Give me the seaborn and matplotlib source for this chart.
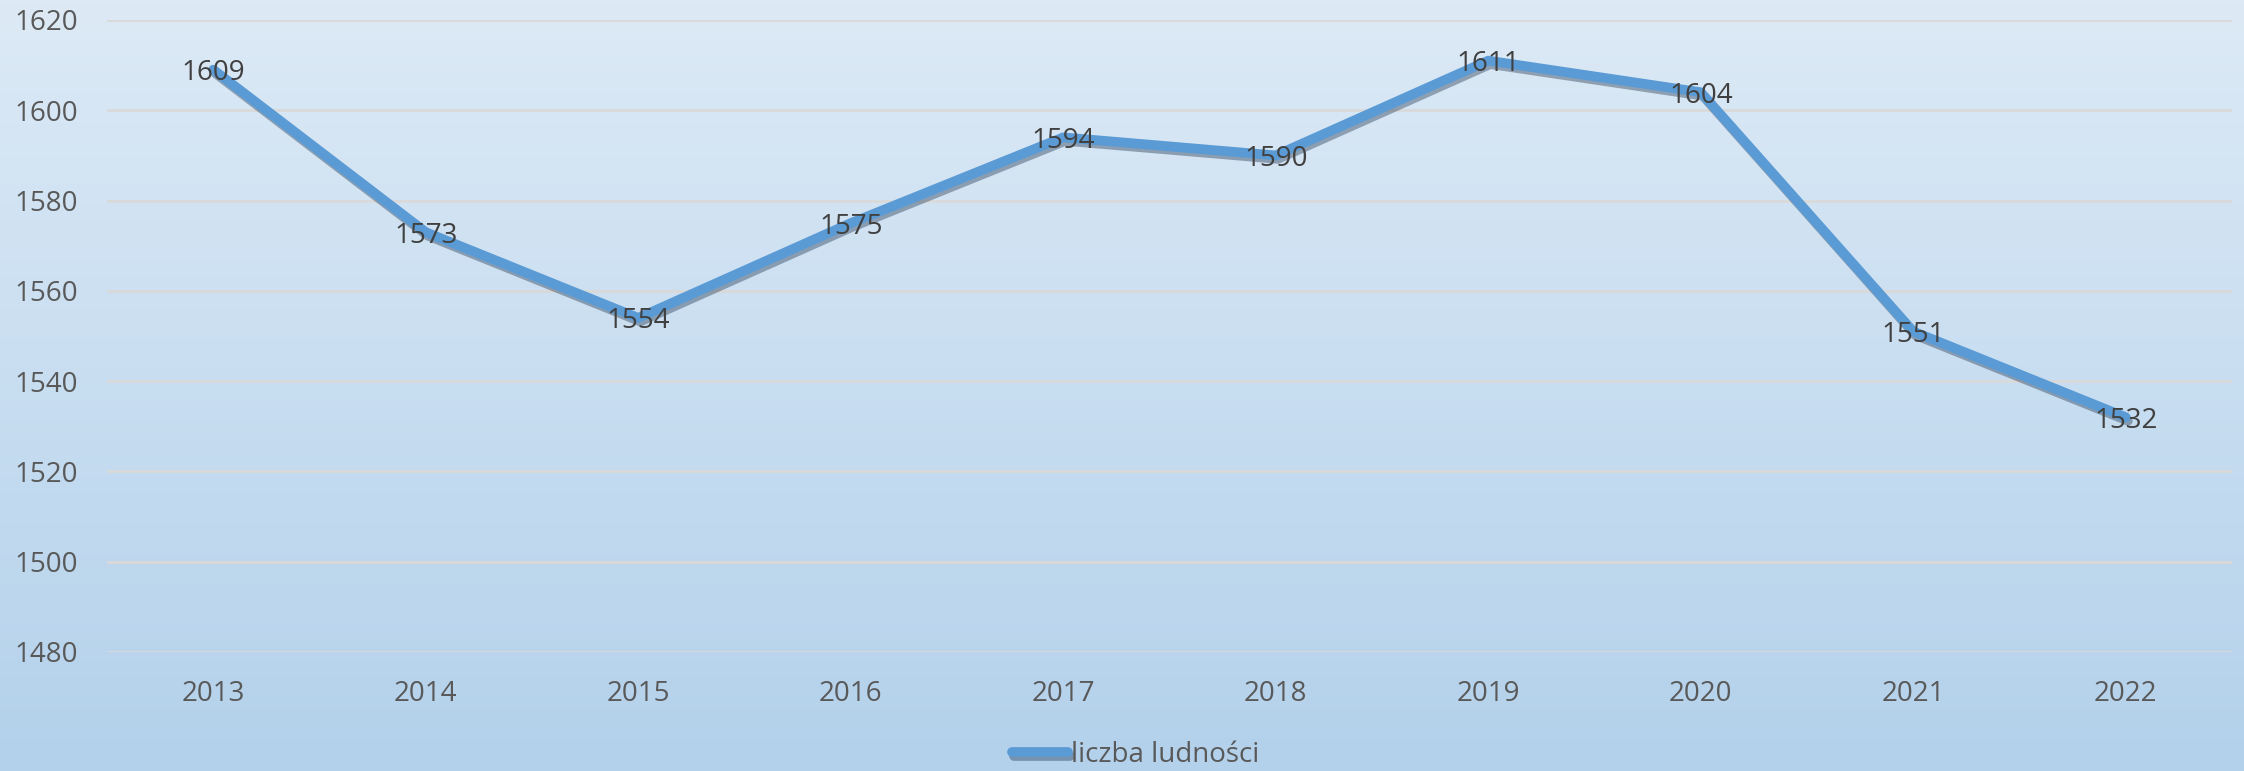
import numpy as np
import pandas as pd
import matplotlib
matplotlib.use("Agg")
import matplotlib.pyplot as plt
import matplotlib.patheffects as pe
import seaborn as sns

lata = ["2013", "2014", "2015", "2016", "2017", "2018", "2019", "2020", "2021", "2022"]
ludnosc = [1609, 1573, 1554, 1575, 1594, 1590, 1611, 1604, 1551, 1532]
y_ticks = [1480, 1500, 1520, 1540, 1560, 1580, 1600, 1620]

df = pd.DataFrame({"rok": lata, "liczba ludności": ludnosc})

sns.set_style("white")
plt.rcParams["font.family"] = ["Open Sans", "DejaVu Sans"]

fig = plt.figure(figsize=(22.44, 7.71), dpi=100)

# tlo z gradientem
bg = fig.add_axes([0, 0, 1, 1], zorder=0)
top = np.array([221, 234, 246]) / 255
bottom = np.array([179, 209, 235]) / 255
t = np.linspace(0, 1, 256)[:, None]
grad = top * (1 - t) + bottom * t
bg.imshow(grad[:, None, :].repeat(4, axis=1), aspect="auto", extent=[0, 1, 0, 1])
bg.set_axis_off()

ax = fig.add_axes([107 / 2244, 1 - 652 / 771, (2232 - 107) / 2244, (652 - 20) / 771], zorder=1)
ax.set_facecolor("none")

sns.lineplot(data=df, x="rok", y="liczba ludności", ax=ax, color="#5b9bd5",
             linewidth=7, label="liczba ludności", zorder=3,
             path_effects=[pe.SimpleLineShadow(offset=(1.5, -2.5), shadow_color="#1f3550", alpha=0.4),
                           pe.Normal()])

for i, v in enumerate(ludnosc):
    ax.text(i, v, str(v), ha="center", va="center_baseline", fontsize=20, color="#404040", zorder=4)

ax.set_xlim(-0.5, len(lata) - 0.5)
ax.set_ylim(1480, 1620)
ax.set_yticks(y_ticks)
ax.grid(axis="y", color="#d9d9d9", linewidth=2)
ax.set_axisbelow(True)
for s in ax.spines.values():
    s.set_visible(False)
ax.tick_params(axis="both", length=0, labelsize=20, labelcolor="#595959")
ax.tick_params(axis="x", pad=20)
ax.tick_params(axis="y", pad=21)
ax.set_xlabel("")
ax.set_ylabel("")

ax.get_legend().remove()
h, l = ax.get_legend_handles_labels()
fig.legend(h, l, loc="center", bbox_to_anchor=(0.506, 1 - 755 / 771), frameon=False,
           fontsize=20, labelcolor="#595959", handlelength=2.0, handletextpad=0.1)

fig.savefig("out.png", dpi=100)
